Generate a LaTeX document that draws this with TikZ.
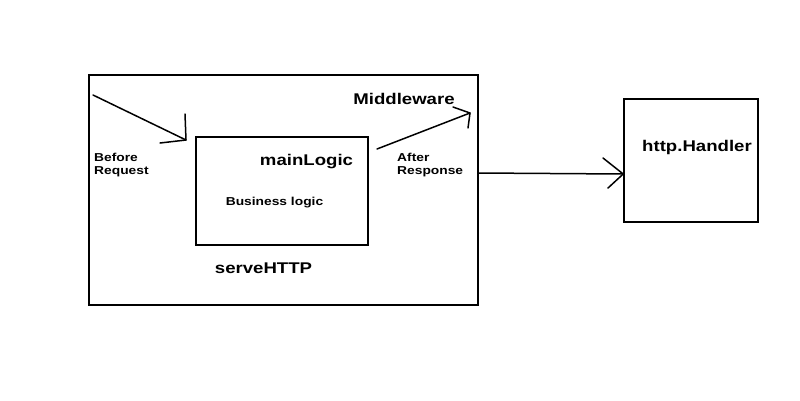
\documentclass[tikz,border=0pt]{standalone}
\usepackage{fontspec}
\setmainfont{Liberation Sans}[FakeStretch=1.2]
\begin{document}
\begin{tikzpicture}[x=1pt,y=-1pt,
  box/.style={draw=black,line width=1.6pt,inner sep=0pt,fill=white},
  big/.style={font=\fontsize{15.5}{18}\selectfont\bfseries,inner sep=0pt},
  small/.style={font=\fontsize{11.5}{13.5}\selectfont\bfseries,inner sep=0pt,align=left},
  conn/.style={line width=1.5pt,draw=black,line cap=round,line join=round}]
\path[use as bounding box,fill=white] (0,0) rectangle (800,400);
\node[box,minimum width=389pt,minimum height=230pt] (outer) at (283.5,190) {};
\node[box,minimum width=172pt,minimum height=108pt] (inner) at (282,191) {};
\node[box,minimum width=134pt,minimum height=123pt] (handler) at (691,160.5) {};
\node[big] (mw) at (404,99) {Middleware};
\node[big] (ml) at (306.5,162) {mainLogic};
\node[small] (bl) at (274.5,203) {Business logic};
\node[big] (sh) at (263.5,268) {serveHTTP};
\node[big] (hh) at (697,147) {http.Handler};
\node[small,anchor=west] (br) at (94,165) {Before\\Request};
\node[small,anchor=west] (ar) at (397,165) {After\\Response};
% arrow 1: before request
\coordinate (a1s) at (93,95);
\coordinate (a1e) at (186,140);
\coordinate (a1u) at (185,114);
\coordinate (a1l) at (160,143);
\draw[conn] (a1s) -- (a1e);
\draw[conn] (a1u) -- (a1e) -- (a1l);
% arrow 2: after response
\coordinate (a2s) at (377,149);
\coordinate (a2e) at (470,113);
\coordinate (a2d) at (468,128);
\coordinate (a2l) at (453,107);
\draw[conn] (a2s) -- (a2e);
\draw[conn] (a2d) -- (a2e) -- (a2l);
% arrow 3: to handler
\coordinate (a3s) at (outer.east |- 0,173);
\coordinate (a3e) at (handler.west |- 0,174);
\coordinate (a3u) at (603,158);
\coordinate (a3d) at (608,188);
\draw[conn] (a3s) -- (a3e);
\draw[conn] (a3u) -- (a3e) -- (a3d);
\end{tikzpicture}
\end{document}
